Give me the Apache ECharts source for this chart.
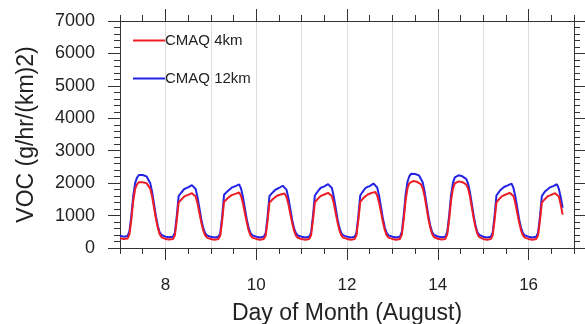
<!DOCTYPE html>
<html>
<head>
<meta charset="utf-8">
<script src="https://cdn.jsdelivr.net/npm/echarts@6/dist/echarts.min.js"></script>
<style>
  html, body { margin: 0; padding: 0; background: #fff; }
  #chart { width: 585px; height: 324px; }
</style>
</head>
<body>
<div id="chart"></div>
<script>
// hourly values, first point = day 7 00h
const startDay = 7;
const seriesNames = ['CMAQ 4km', 'CMAQ 12km'];
const majorDays = [8, 10, 12, 14, 16];
const yTicks = [0, 1000, 2000, 3000, 4000, 5000, 6000, 7000];

const cmaq12km = [
  // day 7
  380, 360, 350, 350, 370, 520, 1000, 1600, 2000, 2170, 2250, 2260, 2250, 2230, 2210, 2150, 2000, 1720, 1350, 980, 680, 480, 400, 370,
  // day 8
  350, 340, 330, 330, 350, 470, 980, 1600, 1680, 1750, 1820, 1850, 1870, 1900, 1940, 1960, 1820, 1560, 1220, 880, 620, 460, 390, 360,
  // day 9
  345, 335, 325, 325, 345, 460, 960, 1640, 1700, 1760, 1820, 1860, 1880, 1910, 1950, 1960, 1830, 1570, 1230, 890, 620, 460, 390, 360,
  // day 10
  350, 335, 325, 325, 345, 460, 950, 1600, 1670, 1730, 1790, 1830, 1850, 1880, 1920, 1930, 1800, 1550, 1210, 870, 610, 455, 385, 360,
  // day 11
  350, 335, 325, 325, 345, 470, 980, 1620, 1700, 1780, 1850, 1880, 1900, 1930, 1970, 1990, 1850, 1590, 1240, 890, 620, 460, 390, 360,
  // day 12
  350, 335, 325, 325, 345, 470, 990, 1620, 1710, 1790, 1860, 1890, 1910, 1950, 1990, 2005, 1860, 1600, 1250, 900, 630, 460, 390, 360,
  // day 13
  350, 335, 325, 325, 350, 500, 1020, 1650, 2050, 2220, 2290, 2295, 2280, 2260, 2240, 2180, 2030, 1750, 1370, 1000, 690, 490, 400, 370,
  // day 14
  355, 340, 330, 330, 350, 500, 1000, 1620, 2010, 2180, 2240, 2243, 2230, 2210, 2190, 2130, 1990, 1720, 1350, 980, 680, 480, 400, 370,
  // day 15
  350, 335, 325, 325, 345, 470, 980, 1620, 1700, 1780, 1840, 1880, 1900, 1930, 1970, 1985, 1850, 1590, 1240, 890, 620, 460, 390, 360,
  // day 16 (ends 18h)
  350, 335, 325, 325, 345, 470, 970, 1600, 1690, 1760, 1820, 1860, 1880, 1910, 1950, 1965, 1820, 1560, 1240
];

const cmaq4km = [
  // day 7
  300, 285, 275, 275, 290, 420, 880, 1450, 1820, 1960, 2030, 2035, 2025, 2015, 2000, 1950, 1830, 1580, 1240, 900, 620, 420, 330, 300,
  // day 8
  280, 270, 260, 260, 280, 390, 850, 1400, 1470, 1530, 1590, 1620, 1640, 1660, 1690, 1700, 1590, 1370, 1070, 780, 540, 390, 320, 290,
  // day 9
  275, 265, 255, 255, 275, 385, 840, 1420, 1480, 1540, 1600, 1630, 1650, 1670, 1700, 1710, 1600, 1380, 1080, 790, 545, 390, 320, 290,
  // day 10
  280, 265, 255, 255, 275, 385, 830, 1400, 1460, 1520, 1570, 1610, 1630, 1650, 1670, 1680, 1580, 1360, 1060, 775, 535, 385, 315, 290,
  // day 11
  280, 265, 255, 255, 275, 390, 850, 1410, 1480, 1540, 1600, 1630, 1650, 1680, 1700, 1710, 1600, 1380, 1080, 790, 545, 390, 320, 290,
  // day 12
  280, 265, 255, 255, 275, 390, 860, 1420, 1490, 1560, 1620, 1650, 1670, 1700, 1720, 1727, 1610, 1390, 1090, 795, 550, 390, 320, 290,
  // day 13
  280, 265, 255, 255, 280, 420, 900, 1480, 1850, 2000, 2060, 2066, 2055, 2040, 2020, 1970, 1850, 1600, 1260, 910, 630, 430, 335, 300,
  // day 14
  285, 270, 260, 260, 280, 420, 880, 1460, 1830, 1990, 2050, 2055, 2045, 2030, 2010, 1960, 1840, 1590, 1250, 905, 625, 425, 335, 300,
  // day 15
  280, 265, 255, 255, 275, 390, 850, 1410, 1480, 1540, 1600, 1630, 1650, 1680, 1700, 1707, 1600, 1380, 1080, 790, 545, 390, 320, 290,
  // day 16 (ends 18h)
  280, 265, 255, 255, 275, 390, 845, 1400, 1470, 1530, 1590, 1620, 1640, 1670, 1690, 1700, 1590, 1330, 1030
];

const toPoints = (arr) => arr.map((v, i) => [startDay + i / 24, v]);

const font = '"Liberation Sans", Arial, Helvetica, sans-serif';
const lineColor = '#333';

const baseX = {
  type: 'value',
  min: 7,
  max: 17,
  axisLine: { show: false, onZero: false, lineStyle: { color: lineColor, width: 1 } },
  axisTick: { show: false },
  axisLabel: { show: false },
  splitLine: { show: false }
};

const chart = echarts.init(document.getElementById('chart'));

chart.setOption({
  animation: false,
  textStyle: { fontFamily: font },
  grid: { left: 120, right: 11, top: 21, bottom: 76, outerBoundsMode: 'none', containLabel: false },
  legend: {
    data: seriesNames,
    orient: 'vertical',
    left: 128,
    top: 28,
    icon: 'rect',
    itemWidth: 32,
    itemHeight: 2,
    itemGap: 23,
    textStyle: { fontSize: 15, color: '#222', fontFamily: font, padding: [0, 0, 0, -5] }
  },
  xAxis: [
    // frame line + daily grid lines + name
    Object.assign({}, baseX, {
      position: 'bottom',
      interval: 1,
      axisLine: { show: true, onZero: false, lineStyle: { color: lineColor, width: 1 } },
      splitLine: { show: true, lineStyle: { color: '#ddd', width: 1 } },
      name: 'Day of Month (August)',
      nameLocation: 'middle',
      nameGap: 54,
      nameTextStyle: { fontSize: 23, color: '#222', fontFamily: font }
    }),
    // minor ticks
    Object.assign({}, baseX, {
      position: 'bottom',
      interval: 0.5,
      axisTick: { show: true, length: 6, lineStyle: { color: lineColor } }
    }),
    // major ticks + labels
    Object.assign({}, baseX, {
      position: 'bottom',
      interval: 1,
      axisTick: { show: true, length: 12, customValues: majorDays, lineStyle: { color: lineColor } },
      axisLabel: { show: true, customValues: majorDays, fontSize: 17, color: '#222', margin: 29, fontFamily: font }
    }),
    // top frame
    Object.assign({}, baseX, {
      position: 'top',
      interval: 0.5,
      axisLine: { show: true, onZero: false, lineStyle: { color: lineColor, width: 1 } },
      axisTick: { show: true, length: 6, lineStyle: { color: lineColor } }
    }),
    Object.assign({}, baseX, {
      position: 'top',
      interval: 1,
      axisTick: { show: true, length: 12, customValues: majorDays, lineStyle: { color: lineColor } }
    })
  ],
  yAxis: [
    {
      type: 'value',
      position: 'left',
      min: 0,
      max: 7000,
      interval: 1000,
      axisLine: { show: true, onZero: false, lineStyle: { color: lineColor, width: 1 } },
      axisTick: { show: true, length: 12, lineStyle: { color: lineColor } },
      minorTick: { show: true, splitNumber: 5, length: 6, lineStyle: { color: lineColor } },
      axisLabel: {
        fontSize: 18, color: '#222', margin: 25, fontFamily: font,
        formatter: (v) => (yTicks.includes(v) ? String(v) : '')
      },
      splitLine: { show: false },
      name: 'VOC (g/hr/(km)2)',
      nameLocation: 'middle',
      nameGap: 82,
      nameTextStyle: { fontSize: 23, color: '#222', fontFamily: font }
    },
    {
      type: 'value',
      position: 'right',
      min: 0,
      max: 7000,
      interval: 1000,
      axisLine: { show: true, onZero: false, lineStyle: { color: lineColor, width: 1 } },
      axisTick: { show: true, length: 12, lineStyle: { color: lineColor } },
      minorTick: { show: true, splitNumber: 5, length: 6, lineStyle: { color: lineColor } },
      axisLabel: { show: false },
      splitLine: { show: false }
    }
  ],
  series: [
    {
      name: 'CMAQ 12km',
      type: 'line',
      xAxisIndex: 0,
      yAxisIndex: 0,
      data: toPoints(cmaq12km),
      symbol: 'none',
      color: '#2323e6',
      lineStyle: { width: 2, color: '#2323e6' },
      z: 2
    },
    {
      name: 'CMAQ 4km',
      type: 'line',
      xAxisIndex: 0,
      yAxisIndex: 0,
      data: toPoints(cmaq4km),
      symbol: 'none',
      color: '#ee1c25',
      lineStyle: { width: 2, color: '#ee1c25' },
      z: 3
    }
  ]
});
</script>
</body>
</html>
